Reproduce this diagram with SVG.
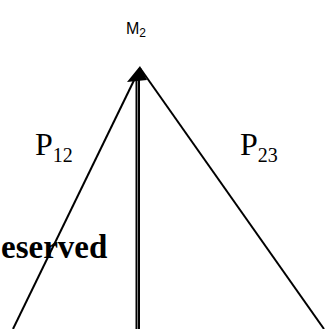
<svg xmlns="http://www.w3.org/2000/svg" width="326" height="329" viewBox="0 0 326 329">
<style>
.ln{stroke:#000;stroke-width:2;fill:none}
.lbl{font-family:"Liberation Serif",serif;font-size:32px;fill:#000}
.sub{font-size:20px}
</style>
<rect width="326" height="329" fill="#fff"/>
<g id="connectors">
<line class="ln" x1="13" y1="329" x2="140" y2="68"/>
<line class="ln" x1="324" y1="329" x2="140" y2="68"/>
<line class="ln" x1="136.5" y1="329" x2="136.5" y2="80"/>
<line class="ln" x1="139" y1="329" x2="139" y2="80"/>
<path d="M140,66 L127,82 L147,80 z" fill="#000"/>
</g>
<g id="M2">
<text x="126" y="34" font-family="Liberation Sans,Arial,sans-serif" font-size="16">M<tspan font-size="12" dy="3">2</tspan></text>
</g>
<g id="P12">
<text class="lbl" x="35" y="155">P<tspan class="sub" dy="7">12</tspan></text>
</g>
<g id="P23">
<text class="lbl" x="240" y="155">P<tspan class="sub" dy="7">23</tspan></text>
</g>
<g id="reserved">
<text x="1" y="258" font-family="Liberation Serif,serif" font-weight="bold" font-size="33">eserved</text>
</g>
</svg>
